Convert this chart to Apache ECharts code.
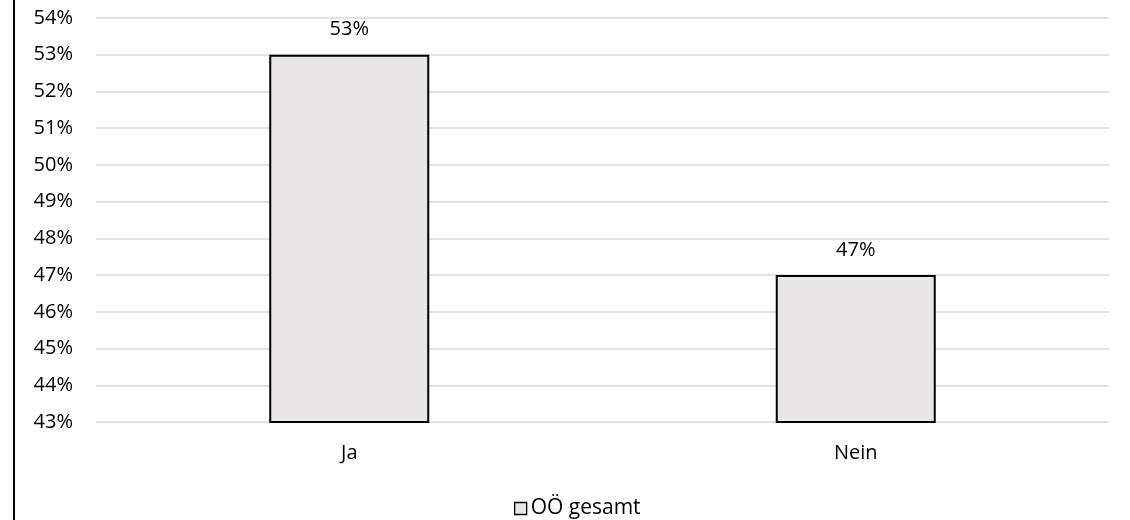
<!DOCTYPE html>
<html>
<head>
<meta charset="utf-8">
<script src="https://cdn.jsdelivr.net/npm/echarts@6/dist/echarts.min.js"></script>
<style>html,body{margin:0;padding:0;background:#fff}#c{width:1130px;height:520px}</style>
</head>
<body>
<div id="c"></div>
<script>
const categories = ['Ja', 'Nein'];
const values = [53, 47];
const seriesName = 'OÖ gesamt';
const yMin = 43, yMax = 54, yStep = 1;

const FONT = 'Open Sans';
const chart = echarts.init(document.getElementById('c'));
chart.setOption({
  animation: false,
  backgroundColor: '#fff',
  grid: { left: 96, right: 21, top: 18, bottom: 98 },
  legend: {
    top: 498, left: 514, padding: 0,
    itemWidth: 12, itemHeight: 12, itemGap: 4,
    textStyle: { fontFamily: FONT, fontSize: 21, color: '#000', padding: [0,0,0,-1] },
    data: [{ name: seriesName, icon: 'rect', itemStyle: { color: '#e8e6e6', borderColor: '#000', borderWidth: 1.3 } }]
  },
  xAxis: {
    type: 'category', data: categories,
    axisLine: { show: false }, axisTick: { show: false },
    axisLabel: { fontFamily: FONT, fontSize: 20, color: '#000', margin: 21 }
  },
  yAxis: {
    type: 'value', min: yMin, max: yMax, interval: yStep,
    axisLine: { show: false }, axisTick: { show: false },
    axisLabel: { formatter: v => v + '%', fontFamily: FONT, fontSize: 20, color: '#000', margin: 23 },
    splitLine: { lineStyle: { color: '#d9d9d9', width: 1.5 } }
  },
  series: [{
    name: seriesName, type: 'bar', data: values, barWidth: 160,
    itemStyle: { color: '#e8e6e6', borderColor: '#000', borderWidth: 2 },
    label: { show: true, position: 'top', distance: 15, formatter: p => p.value + '%', fontFamily: FONT, fontSize: 20, color: '#000' }
  }],
  graphic: [{ type: 'line', shape: { x1: 14, y1: 0, x2: 14, y2: 520 }, style: { stroke: '#000', lineWidth: 2 } }]
});
</script>
</body>
</html>
